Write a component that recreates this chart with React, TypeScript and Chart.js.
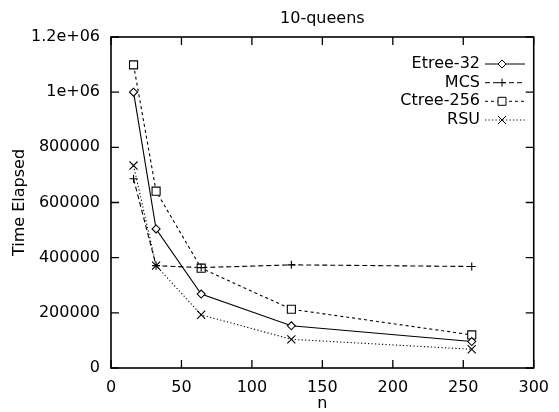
import React, { useEffect, useRef } from 'react';
import { Chart, registerables } from 'chart.js';

Chart.register(...registerables);

const nValues = [16, 32, 64, 128, 256];
const etree32 = [1000000, 504000, 268000, 153000, 96000];
const mcs = [686000, 371000, 364000, 374000, 368000];
const ctree256 = [1099000, 641000, 362000, 213000, 120000];
const rsu = [734000, 371000, 193000, 104000, 68000];

const seriesNames = ['Etree-32', 'MCS', 'Ctree-256', 'RSU'];
const xTicks = [0, 50, 100, 150, 200, 250, 300];
const yTicks = [0, 200000, 400000, 600000, 800000, 1000000, 1200000];
const titleText = '10-queens';
const xTitle = 'n';
const yTitle = 'Time Elapsed';

const FONT = "'DejaVu Sans', sans-serif";
const FS = 16;

function fmtY(v: number): string {
  if (v >= 1000000) return String(v / 1000000) + 'e+06';
  return String(v);
}

function toPoints(ys: number[]) {
  return nValues.map((x, i) => ({ x, y: ys[i] }));
}

function drawMarker(ctx: CanvasRenderingContext2D, style: string, x: number, y: number) {
  ctx.beginPath();
  ctx.setLineDash([]);
  if (style === 'rectRot') {
    const r = 4;
    ctx.moveTo(x, y - r);
    ctx.lineTo(x + r, y);
    ctx.lineTo(x, y + r);
    ctx.lineTo(x - r, y);
    ctx.closePath();
    ctx.fillStyle = '#fff';
    ctx.fill();
    ctx.stroke();
  } else if (style === 'rect') {
    const s = 4;
    ctx.rect(x - s, y - s, 2 * s, 2 * s);
    ctx.fillStyle = '#fff';
    ctx.fill();
    ctx.stroke();
  } else if (style === 'cross') {
    const r = 4;
    ctx.moveTo(x - r, y);
    ctx.lineTo(x + r, y);
    ctx.moveTo(x, y - r);
    ctx.lineTo(x, y + r);
    ctx.stroke();
  } else if (style === 'crossRot') {
    const r = 4;
    ctx.moveTo(x - r, y - r);
    ctx.lineTo(x + r, y + r);
    ctx.moveTo(x + r, y - r);
    ctx.lineTo(x - r, y + r);
    ctx.stroke();
  }
}

const framePlugin = {
  id: 'framePlugin',
  afterDraw(chart: any) {
    const { ctx, chartArea, scales } = chart;
    const { left, right, top, bottom } = chartArea;
    ctx.save();
    ctx.strokeStyle = '#000';
    ctx.setLineDash([]);
    ctx.lineWidth = 1.6;
    ctx.strokeRect(left, top, right - left, bottom - top);
    ctx.lineWidth = 1.3;
    const tl = 8;
    ctx.beginPath();
    for (const v of xTicks) {
      const px = scales.x.getPixelForValue(v);
      ctx.moveTo(px, bottom);
      ctx.lineTo(px, bottom - tl);
      ctx.moveTo(px, top);
      ctx.lineTo(px, top + tl);
    }
    for (const v of yTicks) {
      const py = scales.y.getPixelForValue(v);
      ctx.moveTo(left, py);
      ctx.lineTo(left + tl, py);
      ctx.moveTo(right, py);
      ctx.lineTo(right - tl, py);
    }
    ctx.stroke();

    // title centred over the plot area
    ctx.fillStyle = '#000';
    ctx.font = `${FS}px ${FONT}`;
    ctx.textAlign = 'center';
    ctx.textBaseline = 'middle';
    ctx.fillText(titleText, (left + right) / 2, 19);

    // legend
    const rowsY = [64, 82.7, 101.3, 120];
    const textRight = 480;
    const lineL = 485;
    const lineR = 525;
    const markX = 502;
    chart.data.datasets.forEach((ds: any, i: number) => {
      const y = rowsY[i];
      ctx.font = `${FS}px ${FONT}`;
      ctx.textAlign = 'right';
      ctx.textBaseline = 'middle';
      ctx.fillStyle = '#000';
      ctx.fillText(ds.label, textRight, y);
      ctx.lineWidth = 1;
      ctx.setLineDash(ds.borderDash || []);
      ctx.beginPath();
      ctx.moveTo(lineL, y);
      ctx.lineTo(lineR, y);
      ctx.stroke();
      drawMarker(ctx, ds.pointStyle, markX, y);
    });
    ctx.restore();
  },
};

export default function App() {
  const ref = useRef<HTMLCanvasElement | null>(null);
  useEffect(() => {
    if (!ref.current) return;
    const common = {
      borderColor: '#000',
      backgroundColor: '#fff',
      pointBorderColor: '#000',
      pointBackgroundColor: '#fff',
      borderWidth: 1.1,
      pointBorderWidth: 1.1,
      tension: 0,
      fill: false,
    };
    const chart = new Chart(ref.current, {
      type: 'line',
      data: {
        datasets: [
          { ...common, label: seriesNames[0], data: toPoints(etree32), borderDash: [], pointStyle: 'rectRot', pointRadius: 4 },
          { ...common, label: seriesNames[1], data: toPoints(mcs), borderDash: [5, 3], pointStyle: 'cross', pointRadius: 4 },
          { ...common, label: seriesNames[2], data: toPoints(ctree256), borderDash: [3, 3], pointStyle: 'rect', pointRadius: 5.7 },
          { ...common, label: seriesNames[3], data: toPoints(rsu), borderDash: [1.2, 2.3], pointStyle: 'crossRot', pointRadius: 5.7 },
        ],
      } as any,
      options: {
        animation: false,
        responsive: false,
        plugins: {
          legend: { display: false },
          title: { display: false },
          tooltip: { enabled: false },
        },
        layout: { padding: { top: 37, right: 15, left: 0, bottom: 0 } },
        scales: {
          x: {
            type: 'linear',
            min: 0,
            max: 300,
            afterFit: (s: any) => { s.height = 44; },
            afterBuildTicks: (s: any) => { s.ticks = xTicks.map((v) => ({ value: v })); },
            ticks: { color: '#000', font: { family: FONT, size: FS }, padding: 10, maxRotation: 0 },
            grid: { display: false, drawTicks: false },
            border: { display: false },
            title: { display: true, text: xTitle, color: '#000', font: { family: FONT, size: FS }, padding: { top: 0, bottom: -1 } },
          },
          y: {
            type: 'linear',
            min: 0,
            max: 1200000,
            afterFit: (s: any) => { s.width = 111; },
            afterBuildTicks: (s: any) => { s.ticks = yTicks.map((v) => ({ value: v })); },
            ticks: { color: '#000', font: { family: FONT, size: FS }, padding: 11, callback: (v: any) => fmtY(Number(v)) },
            grid: { display: false, drawTicks: false },
            border: { display: false },
            title: { display: true, text: yTitle, color: '#000', font: { family: FONT, size: FS }, padding: { top: 10, bottom: 0 } },
          },
        },
      } as any,
      plugins: [framePlugin],
    });
    return () => chart.destroy();
  }, []);
  return (
    <div style={{ position: 'fixed', left: 0, top: 0, width: 559, height: 412, background: '#fff' }}>
      <canvas ref={ref} width={559} height={412} style={{ display: 'block' }} />
    </div>
  );
}
